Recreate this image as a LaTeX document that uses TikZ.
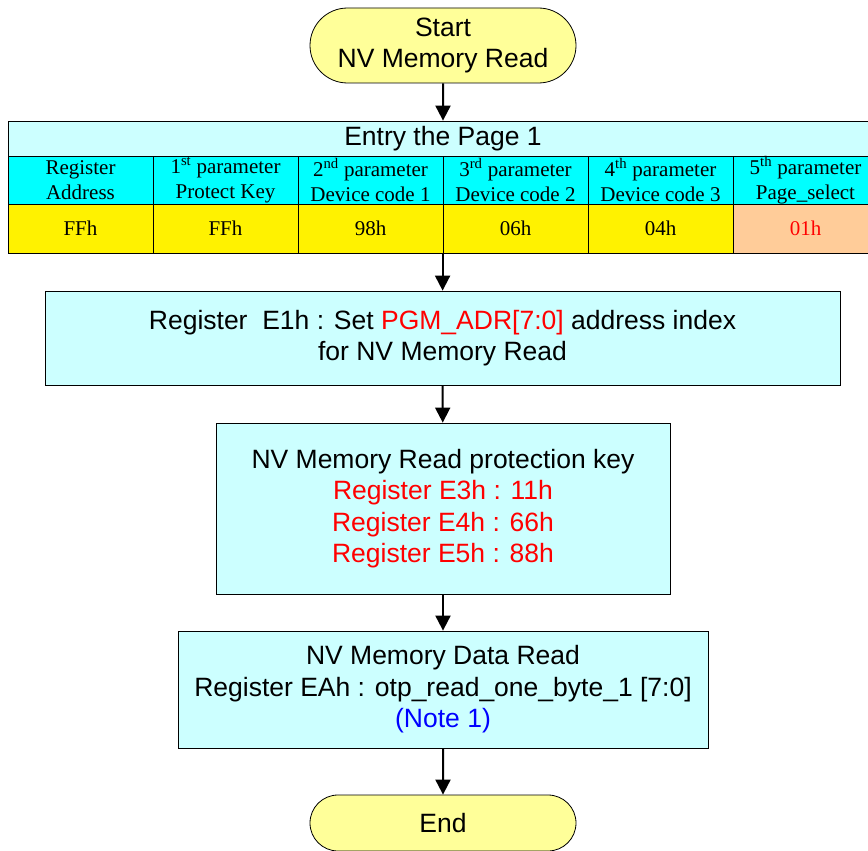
\documentclass[tikz,border=0pt]{standalone}
\usepackage{fontspec}
\setmainfont{Liberation Sans}
\newfontfamily\cellfont{Liberation Serif}
\usetikzlibrary{positioning}
\usetikzlibrary{arrows.meta}
\usetikzlibrary{shapes.misc}

\definecolor{paleyellow}{HTML}{FFFF99}
\definecolor{palecyan}{HTML}{CCFFFF}
\definecolor{cyanrow}{HTML}{00FFFF}
\definecolor{peach}{HTML}{FFCC99}

\begin{document}
\begin{tikzpicture}[
        x=1pt, y=-1pt,
        every node/.style={font=\fontsize{26.5}{31.5}\selectfont, align=center, line width=0.8pt},
        terminal/.style={rounded rectangle, draw, fill=paleyellow, minimum width=266, inner sep=0},
        stepbox/.style={draw, fill=palecyan, inner sep=0},
        cell/.style={draw, minimum width=145, inner sep=0, font=\cellfont\fontsize{21}{25}\selectfont},
        flow/.style={-{Triangle[length=15pt,width=15pt]}, line width=2pt}
    ]

        % Marco de la imagen
        \useasboundingbox (0,0) rectangle (868,851);
        \clip (0,0) rectangle (868,851);

        % Inicio
        \node[terminal, minimum height=75] (start) at (443,45.5) {Start\\NV Memory Read};

        % Tabla de la pagina 1
        \node[stepbox, minimum width=870, minimum height=35] (page) at (443,138.5) {Entry the Page 1};

        \foreach \i/\txt in {1/{Register\\Address},
                             2/{1\textsuperscript{st} parameter\\Protect Key},
                             3/{2\textsuperscript{nd} parameter\\Device code 1},
                             4/{3\textsuperscript{rd} parameter\\Device code 2},
                             5/{4\textsuperscript{th} parameter\\Device code 3},
                             6/{5\textsuperscript{th} parameter\\Page\_select}}
            \node[cell, fill=cyanrow, minimum height=48] (p\i) at ({145*\i-64.5},180) {\txt};

        \foreach \i/\val in {1/FFh, 2/FFh, 3/98h, 4/06h, 5/04h}
            \node[cell, fill=yellow, minimum height=49] (v\i) at ({145*\i-64.5},228.5) {\val};
        \node[cell, fill=peach, minimum height=49, text=red] (v6) at (805.5,228.5) {01h};

        % Pasos
        \node[stepbox, minimum width=795, minimum height=94] (adr) at (442.5,338)
            {Register\ \ E1h : Set \textcolor{red}{PGM\_ADR[7:0]} address index\\for NV Memory Read};

        \node[stepbox, minimum width=454, minimum height=171] (key) at (443,508.5)
            {NV Memory Read protection key\\
             \textcolor{red}{Register E3h : 11h}\\
             \textcolor{red}{Register E4h : 66h}\\
             \textcolor{red}{Register E5h : 88h}};

        \node[stepbox, minimum width=530, minimum height=117] (data) at (443,689.5)
            {NV Memory Data Read\\
             Register EAh : otp\_read\_one\_byte\_1 [7:0]\\
             \textcolor{blue}{(Note 1)}};

        % Fin
        \node[terminal, minimum height=56] (end) at (443,823) {End};

        % Flechas
        \draw[flow] (start) -- (page);
        \draw[flow] (v4.south west) -- (v4.south west |- adr.north);
        \draw[flow] (adr) -- (key);
        \draw[flow] (key) -- (data);
        \draw[flow] (data) -- (end);

    \end{tikzpicture}
\end{document}
